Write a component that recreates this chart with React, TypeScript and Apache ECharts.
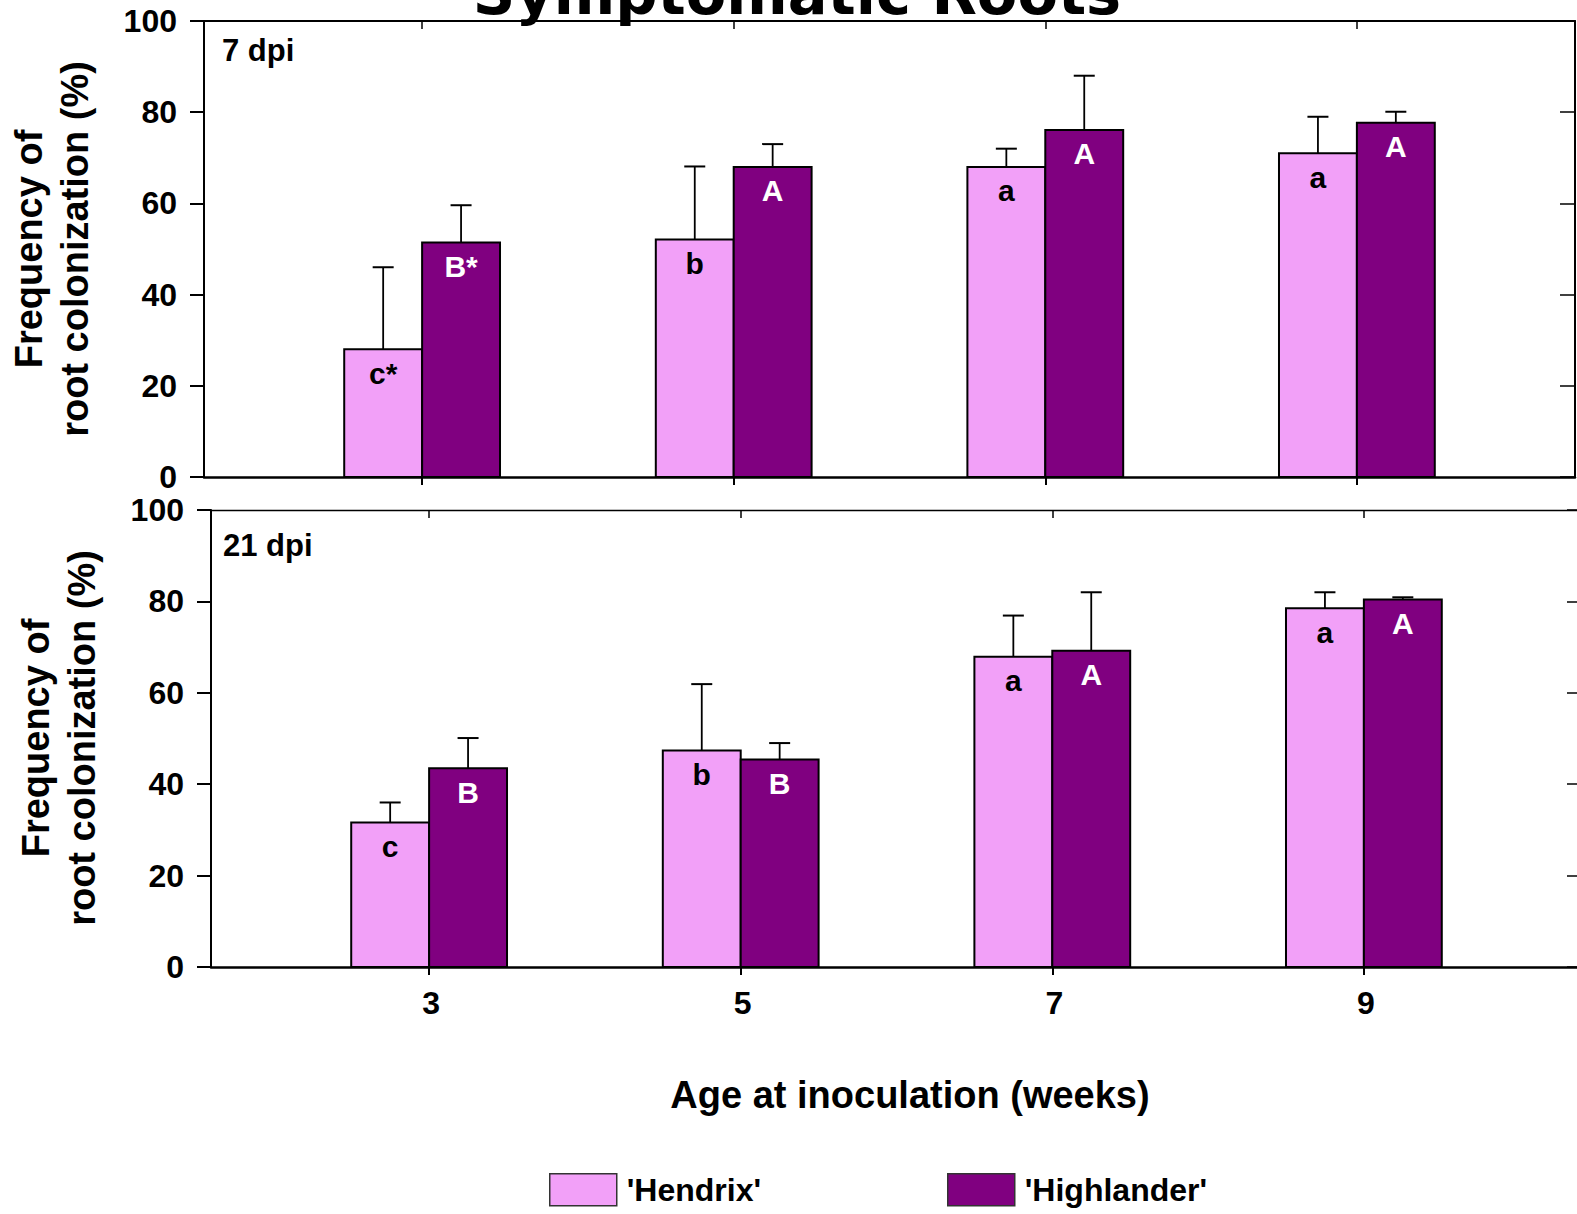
import React, { useEffect, useRef } from 'react';
import * as echarts from 'echarts';

// ---------- data ----------
const weeks = [3, 5, 7, 9];
const cultivars = ["'Hendrix'", "'Highlander'"];
const panelLabels = ['7 dpi', '21 dpi'];

const hendrix7 = [28, 52.1, 68, 71];
const hendrix7Err = [18, 16, 4, 8];
const highlander7 = [51.4, 68, 76.1, 77.7];
const highlander7Err = [8.2, 5, 11.9, 2.4];

const hendrix21 = [31.6, 47.4, 67.9, 78.5];
const hendrix21Err = [4.4, 14.5, 9, 3.5];
const highlander21 = [43.5, 45.4, 69.2, 80.4];
const highlander21Err = [6.6, 3.6, 12.8, 0.5];

const letters7Hendrix = ['c*', 'b', 'a', 'a'];
const letters7Highlander = ['B*', 'A', 'A', 'A'];
const letters21Hendrix = ['c', 'b', 'a', 'a'];
const letters21Highlander = ['B', 'B', 'A', 'A'];

// ---------- style ----------
const PINK = '#F2A0F8';
const PURPLE = '#800080';
const FONT = '"Liberation Sans", Arial, sans-serif';
const BAR_W = 0.5; // in week units
const X_MIN = 1.6;
const X_MAX = 10.4;

function makeRenderItem(side: number, fill: string, textColor: string, letters: string[]) {
  return (params: any, api: any) => {
    const x = api.value(0);
    const v = api.value(1);
    const e = api.value(2);
    const x0 = side < 0 ? x - BAR_W : x;
    const pBase = api.coord([x0, 0]);
    const pTop = api.coord([x0 + BAR_W, v]);
    const pErr = api.coord([x0 + BAR_W / 2, v + e]);
    const cx = (pBase[0] + pTop[0]) / 2;
    return {
      type: 'group',
      children: [
        {
          type: 'rect',
          shape: { x: pBase[0], y: pTop[1], width: pTop[0] - pBase[0], height: pBase[1] - pTop[1] },
          style: { fill, stroke: '#000', lineWidth: 2 },
        },
        {
          type: 'line',
          shape: { x1: cx, y1: pTop[1], x2: cx, y2: pErr[1] },
          style: { stroke: '#000', lineWidth: 1.8 },
        },
        {
          type: 'line',
          shape: { x1: cx - 10.5, y1: pErr[1], x2: cx + 10.5, y2: pErr[1] },
          style: { stroke: '#000', lineWidth: 2 },
        },
        {
          type: 'text',
          x: cx,
          y: pTop[1] + 24,
          style: {
            text: letters[params.dataIndex],
            fill: textColor,
            fontSize: 30,
            fontWeight: 'bold',
            fontFamily: FONT,
            align: 'center',
            verticalAlign: 'middle',
          },
        },
      ],
    };
  };
}

function toData(vals: number[], errs: number[]) {
  return weeks.map((w, i) => [w, vals[i], errs[i]]);
}

const labelFont = { fontFamily: FONT, fontWeight: 'bold' as const, color: '#000' };

function xAxes(gridIndex: number, withLabels: boolean, topWidth: number) {
  return [
    {
      type: 'value', gridIndex, position: 'bottom', min: X_MIN, max: X_MAX,
      axisLine: { show: true, onZero: false, lineStyle: { color: '#000', width: 2.5 } },
      axisTick: { show: true, inside: false, length: 8, customValues: weeks, lineStyle: { color: '#000', width: 2 } },
      axisLabel: withLabels
        ? { show: true, customValues: weeks, margin: 20, fontSize: 32, padding: [0, 0, 0, 4], ...labelFont }
        : { show: false },
      splitLine: { show: false },
    },
    {
      type: 'value', gridIndex, position: 'top', min: X_MIN, max: X_MAX,
      axisLine: { show: true, onZero: false, lineStyle: { color: '#000', width: topWidth } },
      axisTick: { show: true, inside: true, length: 8, customValues: weeks, lineStyle: { color: '#000', width: 1.5 } },
      axisLabel: { show: false },
      splitLine: { show: false },
    },
  ];
}

function yAxes(gridIndex: number, rightWidth: number) {
  return [
    {
      type: 'value', gridIndex, position: 'left', min: 0, max: 100, interval: 20,
      axisLine: { show: true, onZero: false, lineStyle: { color: '#000', width: 2 } },
      axisTick: { show: true, inside: false, length: 14, lineStyle: { color: '#000', width: 2 } },
      axisLabel: { show: true, margin: 27, fontSize: 32, ...labelFont },
      splitLine: { show: false },
    },
    {
      type: 'value', gridIndex, position: 'right', min: 0, max: 100, interval: 20,
      axisLine: { show: true, onZero: false, lineStyle: { color: '#000', width: rightWidth } },
      axisTick: { show: true, inside: true, length: 15, lineStyle: { color: '#000', width: 1.5 } },
      axisLabel: { show: false },
      splitLine: { show: false },
    },
  ];
}

export default function App() {
  const ref = useRef<HTMLDivElement>(null);

  useEffect(() => {
    if (!ref.current) return;
    const chart = echarts.init(ref.current, undefined, { renderer: 'svg' });

    const option: any = {
      animation: false,
      backgroundColor: '#fff',
      grid: [
        { left: 204, top: 21, width: 1371, height: 456, outerBoundsMode: 'none', containLabel: false },
        { left: 211, top: 510, width: 1371, height: 457, outerBoundsMode: 'none', containLabel: false },
      ],
      xAxis: [...xAxes(0, false, 2), ...xAxes(1, true, 1.3)],
      yAxis: [...yAxes(0, 2), ...yAxes(1, 2)],
      legend: [
        {
          left: 549, top: 1173, padding: 0, itemWidth: 67, itemHeight: 32, selectedMode: false,
          data: [{ name: cultivars[0], icon: 'rect', itemStyle: { color: PINK, borderColor: '#333', borderWidth: 1.5 } }],
          textStyle: { fontSize: 32, ...labelFont, padding: [8, 0, 0, 5] },
        },
        {
          left: 947, top: 1173, padding: 0, itemWidth: 67, itemHeight: 32, selectedMode: false,
          data: [{ name: cultivars[1], icon: 'rect', itemStyle: { color: PURPLE, borderColor: '#333', borderWidth: 1.5 } }],
          textStyle: { fontSize: 32, ...labelFont, padding: [8, 0, 0, 5] },
        },
      ],
      series: [
        {
          type: 'custom', name: cultivars[0], xAxisIndex: 0, yAxisIndex: 0,
          itemStyle: { color: PINK },
          encode: { x: 0, y: 1 },
          data: toData(hendrix7, hendrix7Err),
          renderItem: makeRenderItem(-1, PINK, '#000', letters7Hendrix),
        },
        {
          type: 'custom', name: cultivars[1], xAxisIndex: 0, yAxisIndex: 0,
          itemStyle: { color: PURPLE },
          encode: { x: 0, y: 1 },
          data: toData(highlander7, highlander7Err),
          renderItem: makeRenderItem(1, PURPLE, '#fff', letters7Highlander),
        },
        {
          type: 'custom', name: cultivars[0], xAxisIndex: 2, yAxisIndex: 2,
          itemStyle: { color: PINK },
          encode: { x: 0, y: 1 },
          data: toData(hendrix21, hendrix21Err),
          renderItem: makeRenderItem(-1, PINK, '#000', letters21Hendrix),
        },
        {
          type: 'custom', name: cultivars[1], xAxisIndex: 2, yAxisIndex: 2,
          itemStyle: { color: PURPLE },
          encode: { x: 0, y: 1 },
          data: toData(highlander21, highlander21Err),
          renderItem: makeRenderItem(1, PURPLE, '#fff', letters21Highlander),
        },
      ],
      graphic: [
        {
          type: 'text', x: 797, y: -7, z: 10,
          style: {
            text: 'Symptomatic Roots', fontSize: 59, fontWeight: 'bold', fontFamily: '"DejaVu Sans", sans-serif',
            fill: '#000', align: 'center', verticalAlign: 'middle',
          },
        },
        {
          type: 'text', x: 222, y: 50,
          style: { text: panelLabels[0], fontSize: 31, fontWeight: 'bold', fontFamily: FONT, fill: '#000', align: 'left', verticalAlign: 'middle' },
        },
        {
          type: 'text', x: 223, y: 545,
          style: { text: panelLabels[1], fontSize: 31, fontWeight: 'bold', fontFamily: FONT, fill: '#000', align: 'left', verticalAlign: 'middle' },
        },
        {
          type: 'text', x: 52, y: 249, rotation: Math.PI / 2,
          style: {
            text: 'Frequency of\nroot colonization (%)', fontSize: 38, lineHeight: 46, fontWeight: 'bold', fontFamily: FONT,
            fill: '#000', align: 'center', verticalAlign: 'middle',
          },
        },
        {
          type: 'text', x: 59, y: 738, rotation: Math.PI / 2,
          style: {
            text: 'Frequency of\nroot colonization (%)', fontSize: 38, lineHeight: 46, fontWeight: 'bold', fontFamily: FONT,
            fill: '#000', align: 'center', verticalAlign: 'middle',
          },
        },
        {
          type: 'text', x: 910, y: 1095,
          style: {
            text: 'Age at inoculation (weeks)', fontSize: 38, fontWeight: 'bold', fontFamily: FONT,
            fill: '#000', align: 'center', verticalAlign: 'middle',
          },
        },
      ],
    };

    chart.setOption(option);
    return () => chart.dispose();
  }, []);

  return (
    <div
      ref={ref}
      style={{ position: 'absolute', left: 0, top: 0, width: 1577, height: 1214, background: '#fff' }}
    />
  );
}
